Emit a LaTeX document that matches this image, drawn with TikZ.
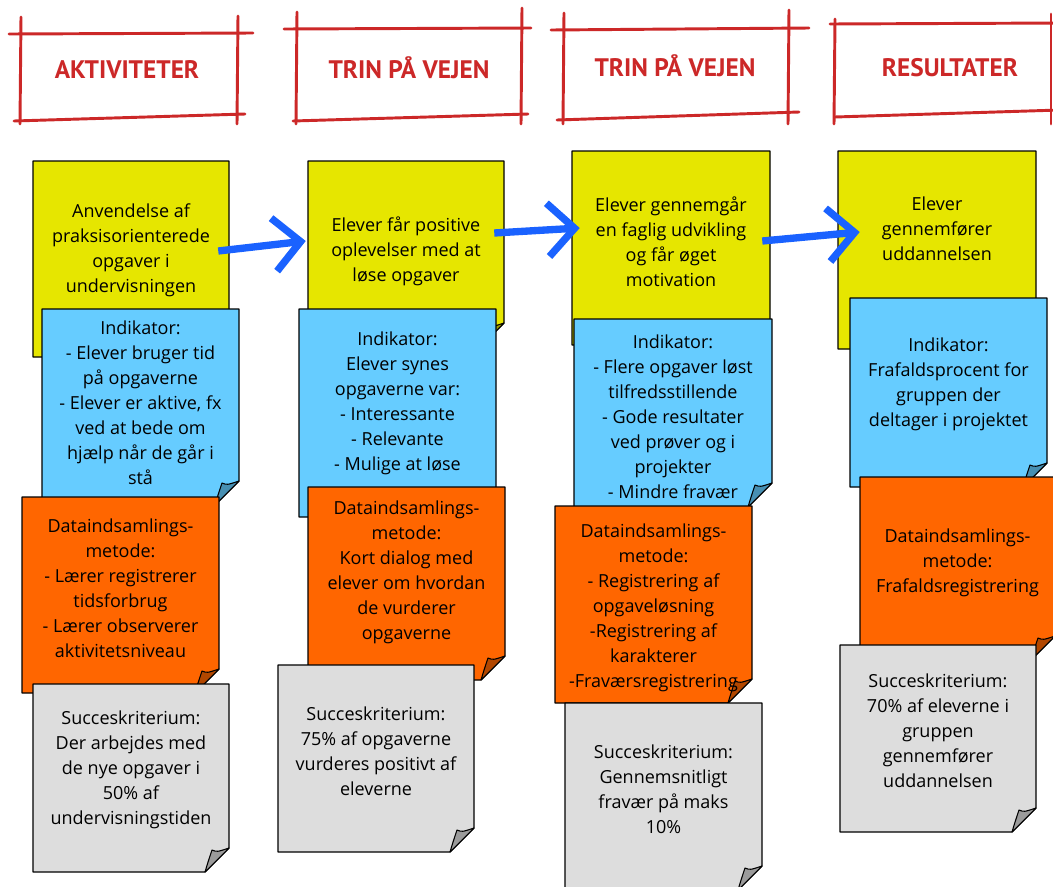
\documentclass[tikz,border=0pt]{standalone}
\usepackage{fontspec}
\setmainfont{Open Sans}
\newfontfamily\handfont{PT Sans}
\usepackage{xcolor}
\usetikzlibrary{arrows.meta,calc}

\definecolor{gul}{RGB}{230,230,0}
\definecolor{blaa}{RGB}{102,204,255}
\definecolor{orange}{RGB}{255,102,0}
\definecolor{graa}{RGB}{221,221,221}
\definecolor{rammerod}{RGB}{204,40,40}
\definecolor{pilblaa}{RGB}{26,98,255}

\tikzset{
  ramme/.style={rammerod, line width=2.2pt, line cap=round},
  overskrift/.style={text=rammerod, font=\handfont\bfseries\fontsize{19}{22}\selectfont},
  notebox/.style={inner sep=0pt},
  notetext/.style={align=center, inner sep=0pt, font=\fontsize{13.5}{18.75}\selectfont},
  pil/.style={pilblaa, line width=5.5pt, -{Straight Barb[length=20pt,width=40pt]}},
}

% seddel: navn, farve, x1, y1, x2, y2, tekstforskydning, tekst
\newcommand\stickynote[8]{%
  \filldraw[fill=#2, draw=black, line width=1pt, line join=round]
    (#3,#4) -- (#5,#4) -- (#5,#6-24) -- (#5-24,#6) -- (#3,#6) -- cycle;
  \filldraw[fill=#2!70!black, draw=black, line width=0.8pt, line join=round]
    (#5-24,#6) .. controls (#5-21,#6-10) .. (#5-17,#6-22)
    .. controls (#5-12,#6-20) .. (#5,#6-24) -- cycle;
  \node[notebox, minimum width={(#5-#3)*0.75pt}, minimum height={(#6-#4)*0.75pt}]
    (#1) at ({(#3+#5)/2},{(#4+#6)/2}) {};
  \node[notetext] (#1t) at ($(#1.center)+(0,#7)$) {#8};
}

\begin{document}
\begin{tikzpicture}[x=0.75pt,y=-0.75pt]
\useasboundingbox[fill=white] (0,0) rectangle (1053,886);
% overskrifter
\draw[ramme] (9,34) -- (253,33);
\draw[ramme] (21,17) -- (20,124);
\draw[ramme] (14,121) -- (245,114);
\draw[ramme] (238,16) -- (237,124);
\node[overskrift] (h1) at (127,70) {AKTIVITETER};
\draw[ramme] (284,29) -- (531,28);
\draw[ramme] (297,12) -- (296,124);
\draw[ramme] (293,121) -- (528,114);
\draw[ramme] (522,8) -- (521,124);
\node[overskrift] (h2) at (409,68) {TRIN PÅ VEJEN};
\draw[ramme] (551,30) -- (809,28);
\draw[ramme] (564,13) -- (563,124);
\draw[ramme] (557,120) -- (799,112);
\draw[ramme] (789,10) -- (788,124);
\node[overskrift] (h3) at (675,66) {TRIN PÅ VEJEN};
\draw[ramme] (830,24) -- (1060,23);
\draw[ramme] (835,19) -- (834,124);
\draw[ramme] (835,117) -- (1060,110);
\draw[ramme] (1051,14) -- (1051,124);
\node[overskrift] (h4) at (950,68) {RESULTATER};
% kolonne 1
\stickynote{c1y}{gul}{33}{161}{229}{357}{-9}{Anvendelse af\\praksisorienterede\\opgaver i\\undervisningen}
\stickynote{c1b}{blaa}{42}{309}{239}{505}{-4}{Indikator:\\- Elever bruger tid\\på opgaverne\\- Elever er aktive, fx\\ved at bede om\\hjælp når de går i\\stå}
\stickynote{c1o}{orange}{22}{497}{219}{693}{-7}{Dataindsamlings-\\metode:\\- Lærer registrerer\\tidsforbrug\\- Lærer observerer\\aktivitetsniveau}
\stickynote{c1g}{graa}{33}{684}{229}{872}{-8}{Succeskriterium:\\Der arbejdes med\\de nye opgaver i\\50\% af\\undervisningstiden}
% kolonne 2
\stickynote{c2y}{gul}{308}{161}{504}{347}{-3}{Elever får positive\\oplevelser med at\\løse opgaver}
\stickynote{c2b}{blaa}{299}{309}{496}{517}{-10}{Indikator:\\Elever synes\\opgaverne var:\\- Interessante\\- Relevante\\- Mulige at løse}
\stickynote{c2o}{orange}{308}{487}{505}{680}{-11}{Dataindsamlings-\\metode:\\Kort dialog med\\elever om hvordan\\de vurderer\\opgaverne}
\stickynote{c2g}{graa}{278}{665}{474}{852}{-7}{Succeskriterium:\\75\% af opgaverne\\vurderes positivt af\\eleverne}
% kolonne 3
\stickynote{c3y}{gul}{572}{151}{770}{345}{-6}{Elever gennemgår\\en faglig udvikling\\og får øget\\motivation}
\stickynote{c3b}{blaa}{574}{319}{772}{507}{4}{Indikator:\\- Flere opgaver løst\\tilfredsstillende\\- Gode resultater\\ved prøver og i\\projekter\\- Mindre fravær}
\stickynote{c3o}{orange}{555}{506}{752}{703}{3}{Dataindsamlings-\\metode:\\- Registrering af\\opgaveløsning\\-Registrering af\\karakterer\\-Fraværsregistrering}
\stickynote{c3g}{graa}{565}{703}{762}{890}{-7}{Succeskriterium:\\Gennemsnitligt\\fravær på maks\\10\%}
% kolonne 4
\stickynote{c4y}{gul}{838}{151}{1036}{349}{-21}{Elever\\gennemfører\\uddannelsen}
\stickynote{c4b}{blaa}{850}{298}{1047}{487}{-8}{Indikator:\\Frafaldsprocent for\\gruppen der\\deltager i projektet}
\stickynote{c4o}{orange}{860}{477}{1055}{660}{-6}{Dataindsamlings-\\metode:\\Frafaldsregistrering}
\stickynote{c4g}{graa}{840}{645}{1036}{832}{-8}{Succeskriterium:\\70\% af eleverne i\\gruppen\\gennemfører\\uddannelsen}
% pile
\draw[pil] ($(c1y.east)+(-11,-8)$) -- ($(c2y.west)+(-2,-13)$);
\draw[pil] ($(c2y.east)+(-10,-21)$) -- ($(c3y.west)+(8,-20)$);
\draw[pil] ($(c3y.east)+(-8,-7)$) -- ($(c4y.west)+(22,-18)$);
\end{tikzpicture}
\end{document}
